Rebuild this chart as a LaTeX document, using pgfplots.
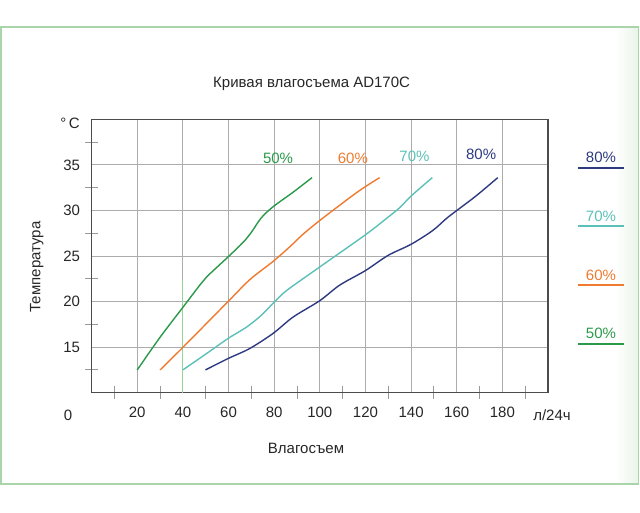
\documentclass[border=0pt]{standalone}
\usepackage{pgfplots}
\pgfplotsset{compat=1.18}
\usepackage{fontspec}
\setmainfont{Liberation Sans}
\definecolor{cgreen}{RGB}{42,154,74}
\definecolor{corange}{RGB}{238,123,48}
\definecolor{cteal}{RGB}{91,192,184}
\definecolor{cnavy}{RGB}{46,58,128}
\definecolor{cframe}{RGB}{170,212,170}
\definecolor{clight}{RGB}{150,212,150}
\newcommand{\f}{\fontsize{15}{18}\selectfont}
\begin{document}
\begin{tikzpicture}[x=1pt,y=1pt]
\useasboundingbox (0,0) rectangle (640,512);
\shade[left color=white, right color=cframe!25] (615,28) rectangle (638,485);
\draw[cframe, line width=1.5pt] (0.8,28) rectangle (638.5,485);
\begin{axis}[
  at={(91.6pt,119.3pt)}, anchor=south west,
  scale only axis, width=456.4pt, height=273.4pt,
  xmin=0, xmax=200, ymin=10, ymax=40,
  xtick={20,40,...,180}, ytick={15,20,...,35},
  minor xtick={10,30,...,190}, minor ytick={12.5,17.5,...,37.5},
  tick pos=left, tick align=center,
  major tick length=0pt, minor tick length=13pt,
  minor tick style={gray!80, line width=0.9pt},
  grid=major, major grid style={gray!65, line width=0.9pt},
  axis line style={draw=black!70, line width=1.3pt},
  /pgf/number format/assume math mode=true,
  tick label style={font=\f, text=black!85},
  xticklabel style={yshift=-11pt},
  yticklabel style={xshift=-8pt},
  clip=false,
  every axis plot/.append style={line width=1.4pt, no marks},
]
\addplot[clight, line width=1pt] coordinates {(40,10) (40,22.4)};
\addplot[cgreen, smooth] table {
x y
20 12.5
29.9 16.05
40.1 19.4
47.4 21.8
50.4 22.7
59.8 24.9
66.4 26.5
70 27.6
74.4 29.2
79.5 30.4
88.3 32.0
96.6 33.6
};
\addplot[corange, smooth] table {
x y
30 12.5
40.1 15.0
59.8 20.0
69.3 22.4
79.5 24.4
86.8 26.0
92.7 27.4
100 28.9
107.3 30.3
117.5 32.2
126.2 33.6
};
\addplot[cteal, smooth] table {
x y
40 12.5
50.4 14.3
59.8 15.95
67.9 17.2
74.4 18.5
79.5 19.8
85.4 21.2
100 23.8
120.4 27.4
129.1 29.1
135 30.3
140.1 31.6
149.3 33.6
};
\addplot[cnavy, smooth] table {
x y
49.9 12.5
59.8 13.75
69.3 14.85
79.5 16.5
88.3 18.3
100 20.1
108.7 21.8
120 23.4
129.8 25.05
140.1 26.3
149.5 27.8
155.4 29.1
159.9 29.97
168.5 31.6
178 33.6
};
% right-hand legend lines
\addplot[cnavy, line width=1.2pt] coordinates {(213.1,34.66) (233.2,34.66)};
\addplot[cteal, line width=1.2pt] coordinates {(213.1,28.29) (233.2,28.29)};
\addplot[corange, line width=1.2pt] coordinates {(213.1,21.81) (233.2,21.81)};
\addplot[cgreen, line width=1.2pt] coordinates {(213.1,15.34) (233.2,15.34)};
\node[cgreen, font=\f] at (axis cs:81.7,35.7) {50\%};
\node[corange, font=\f] at (axis cs:114.5,35.7) {60\%};
\node[cteal, font=\f] at (axis cs:141.5,35.9) {70\%};
\node[cnavy, font=\f] at (axis cs:170.7,36.2) {80\%};
\end{axis}
\node[font=\f, text=black!85] at (311.6,428) {Кривая влагосъема AD170C};
\node[font=\f, text=black!85] at (70,389) {°\,C};
\node[font=\f, text=black!85] at (68,97) {0};
\node[font=\f, text=black!85] at (552,97) {л/24ч};
\node[font=\f, text=black!85] at (306,64) {Влагосъем};
\node[font=\f, text=black!85, rotate=90] at (36.7,245) {Температура};
\node[font=\f, cnavy] at (601,355) {80\%};
\node[font=\f, cteal] at (601,295.3) {70\%};
\node[font=\f, corange] at (601,237) {60\%};
\node[font=\f, cgreen] at (601,179) {50\%};
\end{tikzpicture}
\end{document}
